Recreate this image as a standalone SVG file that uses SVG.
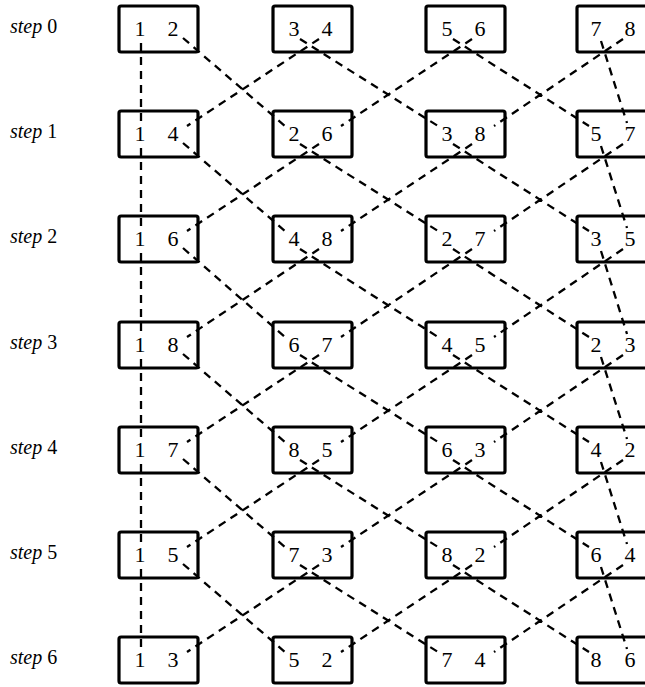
<svg xmlns="http://www.w3.org/2000/svg" width="645" height="687" viewBox="0 0 645 687">
<style>
.box rect{fill:none;stroke:#000;stroke-width:3.2}
.box text{font-family:"Liberation Serif",serif;font-size:22px;fill:#000;text-anchor:middle}
.lbl{font-family:"Liberation Serif",serif;font-size:20px;fill:#000}
.lbl .it{font-style:italic}
#connectors path{fill:none;stroke:#000;stroke-width:2.3;stroke-dasharray:8 6}
</style>
<rect width="645" height="687" fill="#fff"/>
<g id="labels">
<text class="lbl" x="10" y="33"><tspan class="it">step</tspan> 0</text>
<text class="lbl" x="10" y="138"><tspan class="it">step</tspan> 1</text>
<text class="lbl" x="10" y="243"><tspan class="it">step</tspan> 2</text>
<text class="lbl" x="10" y="349"><tspan class="it">step</tspan> 3</text>
<text class="lbl" x="10" y="454"><tspan class="it">step</tspan> 4</text>
<text class="lbl" x="10" y="559"><tspan class="it">step</tspan> 5</text>
<text class="lbl" x="10" y="664"><tspan class="it">step</tspan> 6</text>
</g>
<g id="connectors">
<path d="M141 43V123M141 148V228M141 253V334M141 359V439M141 464V544M141 569V649"/>
<path d="M183 38L285 126M300 39L438 126M453 39L589 126M601 41L627 123M319 39L187 126M472 39L341 126M623 39L494 126"/>
<path d="M183 143L285 231M300 144L438 231M453 144L589 231M601 146L627 228M319 144L187 231M472 144L341 231M623 144L494 231"/>
<path d="M183 248L285 337M300 249L438 337M453 249L589 337M601 251L627 334M319 249L187 337M472 249L341 337M623 249L494 337"/>
<path d="M183 354L285 442M300 355L438 442M453 355L589 442M601 357L627 439M319 355L187 442M472 355L341 442M623 355L494 442"/>
<path d="M183 459L285 547M300 460L438 547M453 460L589 547M601 462L627 544M319 460L187 547M472 460L341 547M623 460L494 547"/>
<path d="M183 564L285 652M300 565L438 652M453 565L589 652M601 567L627 649M319 565L187 652M472 565L341 652M623 565L494 652"/>
</g>
<g id="r0c1" class="box"><rect x="119" y="6" width="79" height="46" rx="2"/><text x="140" y="36">1</text><text x="173" y="36">2</text></g>
<g id="r0c2" class="box"><rect x="273" y="6" width="79" height="46" rx="2"/><text x="294" y="36">3</text><text x="327" y="36">4</text></g>
<g id="r0c3" class="box"><rect x="426" y="6" width="79" height="46" rx="2"/><text x="447" y="36">5</text><text x="480" y="36">6</text></g>
<g id="r0c4" class="box"><rect x="577" y="6" width="79" height="46" rx="2"/><text x="596" y="36">7</text><text x="630" y="36">8</text></g>
<g id="r1c1" class="box"><rect x="119" y="111" width="79" height="46" rx="2"/><text x="140" y="141">1</text><text x="173" y="141">4</text></g>
<g id="r1c2" class="box"><rect x="273" y="111" width="79" height="46" rx="2"/><text x="294" y="141">2</text><text x="327" y="141">6</text></g>
<g id="r1c3" class="box"><rect x="426" y="111" width="79" height="46" rx="2"/><text x="447" y="141">3</text><text x="480" y="141">8</text></g>
<g id="r1c4" class="box"><rect x="577" y="111" width="79" height="46" rx="2"/><text x="596" y="141">5</text><text x="630" y="141">7</text></g>
<g id="r2c1" class="box"><rect x="119" y="216" width="79" height="46" rx="2"/><text x="140" y="246">1</text><text x="173" y="246">6</text></g>
<g id="r2c2" class="box"><rect x="273" y="216" width="79" height="46" rx="2"/><text x="294" y="246">4</text><text x="327" y="246">8</text></g>
<g id="r2c3" class="box"><rect x="426" y="216" width="79" height="46" rx="2"/><text x="447" y="246">2</text><text x="480" y="246">7</text></g>
<g id="r2c4" class="box"><rect x="577" y="216" width="79" height="46" rx="2"/><text x="596" y="246">3</text><text x="630" y="246">5</text></g>
<g id="r3c1" class="box"><rect x="119" y="322" width="79" height="46" rx="2"/><text x="140" y="352">1</text><text x="173" y="352">8</text></g>
<g id="r3c2" class="box"><rect x="273" y="322" width="79" height="46" rx="2"/><text x="294" y="352">6</text><text x="327" y="352">7</text></g>
<g id="r3c3" class="box"><rect x="426" y="322" width="79" height="46" rx="2"/><text x="447" y="352">4</text><text x="480" y="352">5</text></g>
<g id="r3c4" class="box"><rect x="577" y="322" width="79" height="46" rx="2"/><text x="596" y="352">2</text><text x="630" y="352">3</text></g>
<g id="r4c1" class="box"><rect x="119" y="427" width="79" height="46" rx="2"/><text x="140" y="457">1</text><text x="173" y="457">7</text></g>
<g id="r4c2" class="box"><rect x="273" y="427" width="79" height="46" rx="2"/><text x="294" y="457">8</text><text x="327" y="457">5</text></g>
<g id="r4c3" class="box"><rect x="426" y="427" width="79" height="46" rx="2"/><text x="447" y="457">6</text><text x="480" y="457">3</text></g>
<g id="r4c4" class="box"><rect x="577" y="427" width="79" height="46" rx="2"/><text x="596" y="457">4</text><text x="630" y="457">2</text></g>
<g id="r5c1" class="box"><rect x="119" y="532" width="79" height="46" rx="2"/><text x="140" y="562">1</text><text x="173" y="562">5</text></g>
<g id="r5c2" class="box"><rect x="273" y="532" width="79" height="46" rx="2"/><text x="294" y="562">7</text><text x="327" y="562">3</text></g>
<g id="r5c3" class="box"><rect x="426" y="532" width="79" height="46" rx="2"/><text x="447" y="562">8</text><text x="480" y="562">2</text></g>
<g id="r5c4" class="box"><rect x="577" y="532" width="79" height="46" rx="2"/><text x="596" y="562">6</text><text x="630" y="562">4</text></g>
<g id="r6c1" class="box"><rect x="119" y="637" width="79" height="46" rx="2"/><text x="140" y="667">1</text><text x="173" y="667">3</text></g>
<g id="r6c2" class="box"><rect x="273" y="637" width="79" height="46" rx="2"/><text x="294" y="667">5</text><text x="327" y="667">2</text></g>
<g id="r6c3" class="box"><rect x="426" y="637" width="79" height="46" rx="2"/><text x="447" y="667">7</text><text x="480" y="667">4</text></g>
<g id="r6c4" class="box"><rect x="577" y="637" width="79" height="46" rx="2"/><text x="596" y="667">8</text><text x="630" y="667">6</text></g>
</svg>
